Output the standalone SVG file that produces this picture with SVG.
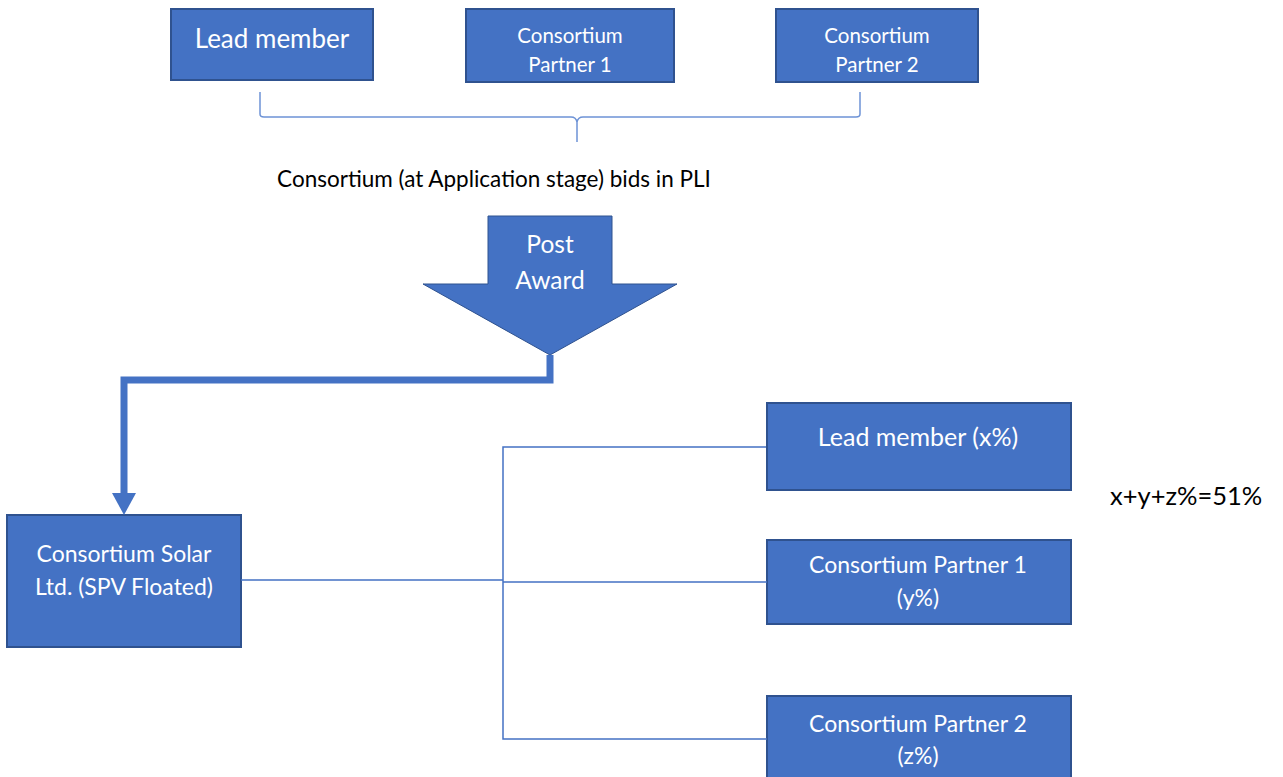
<svg xmlns="http://www.w3.org/2000/svg" width="1283" height="777" viewBox="0 0 1283 777">
<defs>
<style>
.box{fill:#4472C4;stroke:#2F528F;stroke-width:2}
.t{font-family:Lato,"Open Sans","Liberation Sans",sans-serif;fill:#FFFFFF;text-anchor:middle}
.k{font-family:Lato,"Open Sans","Liberation Sans",sans-serif;fill:#000000}
.thin{fill:none;stroke:#4472C4;stroke-width:1.5}
.brace{fill:none;stroke:#6E93D6;stroke-width:1.5}
</style>
</defs>
<rect width="1283" height="777" fill="#FFFFFF"/>

<g id="top-lead">
<rect class="box" x="171" y="9" width="202" height="71"/>
<text class="t" x="272" y="48" font-size="26">Lead member</text>
</g>
<g id="top-cp1">
<rect class="box" x="466" y="9" width="208" height="73"/>
<text class="t" x="570" y="43" font-size="20.5">Consortium</text>
<text class="t" x="570" y="72" font-size="20.5">Partner 1</text>
</g>
<g id="top-cp2">
<rect class="box" x="776" y="9" width="202" height="73"/>
<text class="t" x="877" y="43" font-size="20.5">Consortium</text>
<text class="t" x="877" y="72" font-size="20.5">Partner 2</text>
</g>

<g id="brace">
<path class="brace" d="M260,92 L260,114 Q260,117 264,117 L571,117 Q576,117 577,122 L577,142 M577,122 Q578,117 583,117 L856,117 Q860,117 860,114 L860,92"/>
</g>

<g id="caption">
<text class="k" x="494" y="187" font-size="22.5" text-anchor="middle">Consortium (at Application stage) bids in PLI</text>
</g>

<g id="post-award">
<path d="M488,216 L612,216 L612,284 L677,284 L550,355 L423,284 L488,284 Z" fill="#4472C4" stroke="#2F528F" stroke-width="1"/>
<text class="t" x="550" y="253" font-size="24.5">Post</text>
<text class="t" x="550" y="289" font-size="24.5">Award</text>
</g>

<g id="spv">
<rect class="box" x="7" y="515" width="234" height="132"/>
<text class="t" x="124" y="562" font-size="23">Consortium Solar</text>
<text class="t" x="124" y="595" font-size="23">Ltd. (SPV Floated)</text>
</g>

<g id="r-lead">
<rect class="box" x="767" y="403" width="304" height="87"/>
<text class="t" x="918" y="446" font-size="25">Lead member (x%)</text>
</g>
<g id="r-cp1">
<rect class="box" x="767" y="540" width="304" height="84"/>
<text class="t" x="918" y="573" font-size="23">Consortium Partner 1</text>
<text class="t" x="918" y="606" font-size="23">(y%)</text>
</g>
<g id="r-cp2">
<rect class="box" x="767" y="696" width="304" height="90"/>
<text class="t" x="918" y="732" font-size="23">Consortium Partner 2</text>
<text class="t" x="918" y="764" font-size="23">(z%)</text>
</g>

<g id="sum-label">
<text class="k" x="1110" y="505" font-size="25.5">x+y+z%=51%</text>
</g>

<g id="connectors">
<path d="M550,355 L550,380 L124,380 L124,497" fill="none" stroke="#4472C4" stroke-width="7"/>
<path d="M112,493 L136,493 L124,515 Z" fill="#4472C4"/>
<path class="thin" d="M241,580 L503,580 M503,582 L767,582 M766,447 L503,447 L503,739 L767,739"/>
</g>
</svg>
